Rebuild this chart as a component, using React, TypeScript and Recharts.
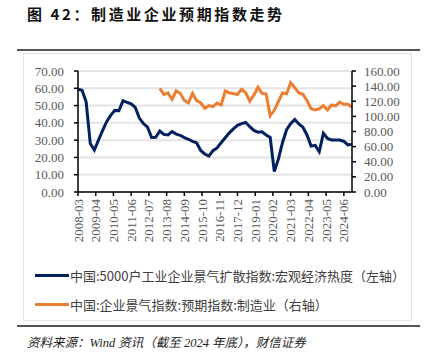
import { LineChart, Line, XAxis, YAxis, CartesianGrid } from "recharts"

// quarterly observations, 2008-03 .. 2024-12
const firstYear = 2008
const quarterMonths = ["03", "06", "09", "12"]

const heat = [
  59.4, 58.8, 52.0, 28.0, 24.3, 30.0, 35.5, 40.7, 44.3, 47.2,
  47.0, 52.8, 51.8, 51.0, 49.0, 42.8, 39.6, 37.5, 31.5, 31.6,
  35.3, 33.3, 33.0, 35.0, 33.5, 32.8, 31.5, 30.5, 29.3, 28.5,
  24.0, 22.0, 20.8, 23.9, 25.5, 28.5, 31.4, 34.2, 36.5, 38.6,
  39.6, 40.3, 37.8, 35.6, 34.6, 34.8, 33.0, 31.6, 11.8, 19.0,
  28.5, 36.0, 39.5, 42.0, 39.4, 37.5, 33.0, 26.6, 27.0, 23.3,
  34.0, 31.0, 30.1, 30.1, 30.1, 29.3, 27.2, 27.6,
]

const expectation: (number | null)[] = [
  null, null, null, null, null, null, null, null, null, null,
  null, null, null, null, null, null, null, null, null, null,
  137, 129, 131, 122.6, 133.6, 130.5, 121, 118, 130.5, 120.8,
  118, 110.7, 114.2, 112.8, 117.5, 115, 133.6, 131.3, 130, 129.2,
  135.8, 131.3, 120, 128, 138.5, 130.5, 129.6, 101, 108, 119.4,
  131, 130, 144.6, 138, 131, 129.2, 121, 110, 108.5, 110,
  114.2, 108.5, 115, 113.8, 119, 116, 116, 112,
]

const xLabels = [
  "2008-03", "2009-04", "2010-05", "2011-06", "2012-07", "2013-08", "2014-09", "2015-10",
  "2016-11", "2017-12", "2019-01", "2020-02", "2021-03", "2022-04", "2023-05", "2024-06",
]
const leftTicks = [0, 10, 20, 30, 40, 50, 60, 70]
const rightTicks = [0, 20, 40, 60, 80, 100, 120, 140, 160]

const monthIndex = (label: string) => {
  const [y, m] = label.split("-").map(Number)
  return (y - 2008) * 12 + (m - 3)
}

const data = heat.map((h, i) => {
  const date = `${firstYear + Math.floor(i / 4)}-${quarterMonths[i % 4]}`
  return { date, m: monthIndex(date), heat: h, expect: expectation[i] }
})

const xTicks = xLabels.map(monthIndex)
const labelAt = new Map(xLabels.map((l) => [monthIndex(l), l]))

const SERIF = '"Liberation Serif", "Times New Roman", serif'
const CJK = '"Noto Sans CJK SC", "Noto Sans", sans-serif'
const BLUE = "#002060"
const ORANGE = "#ED7D31"

function DateTick({ x, y, payload }: any) {
  return (
    <g transform={`translate(${x},${y})`}>
      <text transform="rotate(-90)" textAnchor="end" dy="0.35em" fontFamily={SERIF} fontSize={13} fill="#595959">
        {labelAt.get(payload.value)}
      </text>
    </g>
  )
}

export default function App() {
  return (
    <div style={{ position: "absolute", left: 0, top: 0, width: 428, height: 359, background: "#fff", overflow: "hidden" }}>
      <div style={{ position: "absolute", left: 27, top: 3, fontFamily: CJK, fontWeight: 700, fontSize: 15, letterSpacing: 2.6, color: "#111", whiteSpace: "nowrap" }}>
        图 42：制造业企业预期指数走势
      </div>
      <div style={{ position: "absolute", left: 17, top: 49, width: 403, height: 2, background: "#555" }} />
      <div style={{ position: "absolute", left: 23, top: 53, width: 389, height: 268, border: "1px solid #e3e3e3", boxSizing: "border-box" }} />

      <div style={{ position: "absolute", left: 0, top: 0 }}>
        <LineChart width={428} height={260} data={data} margin={{ top: 71, right: 0, bottom: 13, left: 0 }}>
          <CartesianGrid yAxisId="left" vertical={false} stroke="#e4e4e4" strokeWidth={2} />
          <XAxis
            dataKey="m"
            type="number"
            domain={[0, 201]}
            ticks={xTicks}
            interval={0}
            height={55}
            tick={<DateTick />}
            tickSize={4}
            tickMargin={3}
            axisLine={{ stroke: "#000", strokeWidth: 1.5 }}
            tickLine={{ stroke: "#000", strokeWidth: 1.5 }}
          />
          <YAxis
            yAxisId="left"
            domain={[0, 70]}
            ticks={leftTicks}
            interval={0}
            width={78}
            tickFormatter={(v: number) => v.toFixed(2)}
            tick={{ fontFamily: SERIF, fontSize: 13, fill: "#595959" }}
            tickSize={4}
            tickMargin={10}
            axisLine={{ stroke: "#000", strokeWidth: 1.5 }}
            tickLine={{ stroke: "#000", strokeWidth: 1.5 }}
          />
          <YAxis
            yAxisId="right"
            orientation="right"
            domain={[0, 160]}
            ticks={rightTicks}
            interval={0}
            width={76}
            tickFormatter={(v: number) => v.toFixed(2)}
            tick={{ fontFamily: SERIF, fontSize: 13, fill: "#595959", textAnchor: "start" }}
            tickSize={4}
            tickMargin={8}
            axisLine={{ stroke: "#000", strokeWidth: 1.5 }}
            tickLine={{ stroke: "#000", strokeWidth: 1.5 }}
          />
          <Line yAxisId="left" type="linear" dataKey="heat" stroke={BLUE} strokeWidth={3} dot={false} isAnimationActive={false} />
          <Line yAxisId="right" type="linear" dataKey="expect" stroke={ORANGE} strokeWidth={3} dot={false} isAnimationActive={false} />
        </LineChart>
      </div>

      {[
        { color: BLUE, text: "中国:5000户工业企业景气扩散指数:宏观经济热度（左轴）", top: 275 },
        { color: ORANGE, text: "中国:企业景气指数:预期指数:制造业（右轴）", top: 304 },
      ].map((item) => (
        <div key={item.text} style={{ position: "absolute", left: 35, top: item.top - 10, height: 20, display: "flex", alignItems: "center", whiteSpace: "nowrap" }}>
          <div style={{ width: 34, height: 3, background: item.color }} />
          <span style={{ fontFamily: CJK, fontSize: 13, color: "#404040", marginLeft: 1 }}>{item.text}</span>
        </div>
      ))}

      <div style={{ position: "absolute", left: 17, top: 325, width: 403, height: 2, background: "#555" }} />
      <div style={{ position: "absolute", left: 27, top: 332, fontFamily: `${SERIF.split(",")[0]}, "Noto Sans CJK SC"`, fontStyle: "italic", fontSize: 12.5, color: "#222", whiteSpace: "nowrap" }}>
        资料来源：Wind 资讯（截至 2024 年底），财信证券
      </div>
    </div>
  )
}
